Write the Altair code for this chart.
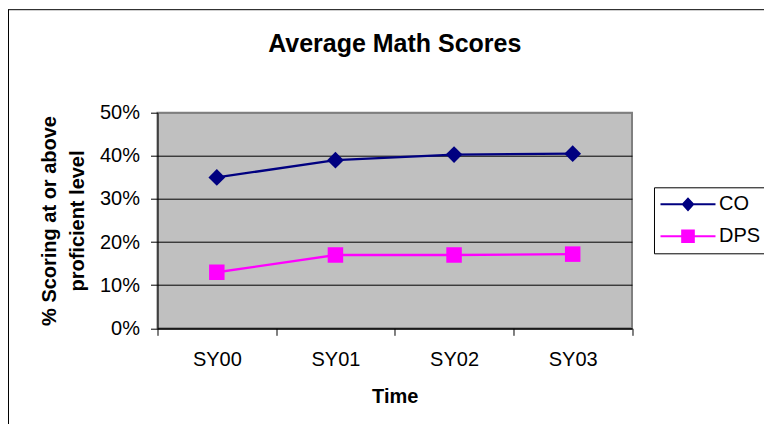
import altair as alt
import pandas as pd

years = ["SY00", "SY01", "SY02", "SY03"]
co_values = [0.35, 0.39, 0.403, 0.405]
dps_values = [0.13, 0.17, 0.17, 0.172]
series_names = ["CO", "DPS"]
series_colors = ["#000080", "#FF00FF"]
series_shapes = ["diamond", "square"]
y_ticks = [0, 0.1, 0.2, 0.3, 0.4, 0.5]

rows = []
for name, vals in zip(series_names, [co_values, dps_values]):
    for yr, v in zip(years, vals):
        rows.append({"year": yr, "series": name, "value": v})
df = pd.DataFrame(rows)

FONT = "Liberation Sans, Arial, sans-serif"

# legend symbols (Excel style): a short line with the marker in the middle, as filled paths
legend_paths = [
    "M-4.23,-0.15L4.23,-0.15L4.23,0.15L-4.23,0.15Z M0,-1.1L1,0L0,1.1L-1,0Z",
    "M-4.23,-0.15L4.23,-0.15L4.23,0.15L-4.23,0.15Z M-1.05,-1.05L1.05,-1.05L1.05,1.05L-1.05,1.05Z",
]

x_enc = alt.X(
    "year:N",
    sort=years,
    scale=alt.Scale(type="band", domain=years, paddingInner=0, paddingOuter=0),
    axis=alt.Axis(
        title="Time",
        labelAngle=0,
        tickBand="extent",
        tickSize=7,
        labelPadding=14,
        titlePadding=17,
        grid=False,
    ),
)
y_enc = alt.Y(
    "value:Q",
    scale=alt.Scale(domain=[0, 0.5], nice=False),
    axis=alt.Axis(
        values=y_ticks,
        format=".0%",
        title=["% Scoring at or above", "proficient level"],
        titleLineHeight=28,
        titlePadding=12,
        tickSize=7,
        labelPadding=11,
        grid=True,
        gridColor={"condition": {"test": "datum.value >= 0.5", "value": "#808080"}, "value": "#000000"},
    ),
)

color_scale = alt.Scale(domain=series_names, range=series_colors)
color_nolegend = alt.Color("series:N", scale=color_scale, legend=None)

base = alt.Chart(df)

legend = alt.Legend(
    title=None,
    orient="none",
    legendX=496.5,
    legendY=74.6,
    direction="vertical",
    fillColor="#FFFFFF",
    strokeColor="#000000",
    padding=7,
    labelFont=FONT,
    labelFontSize=20,
    labelColor="#000000",
    labelOffset=21,
    symbolOffset=17,
    symbolSize=169,
    symbolStrokeWidth=0,
    symbolOpacity=1,
    rowPadding=12,
)

# legend-only layer: no rows pass the filter, so it draws nothing but the legend
legend_layer = (
    base.transform_filter("false")
    .mark_point(filled=True)
    .encode(
        x=x_enc,
        y=y_enc,
        color=alt.Color("series:N", scale=color_scale, legend=legend),
        shape=alt.Shape("series:N", scale=alt.Scale(domain=series_names, range=legend_paths), legend=legend),
    )
)

lines = base.mark_line(strokeWidth=2.3).encode(
    x=x_enc, y=y_enc, color=color_nolegend, detail="series:N"
)

points_layers = []
for name, shp, sz in zip(series_names, series_shapes, [280, 240]):
    points_layers.append(
        base.transform_filter(alt.datum.series == name)
        .mark_point(filled=True, size=sz, opacity=1, shape=shp)
        .encode(x=x_enc, y=y_enc, color=color_nolegend)
    )

frame_data = alt.Data(values=[{"k": 1}])
frame_top = alt.Chart(frame_data).mark_rule(color="#000000", strokeWidth=1).encode(
    x=alt.value(-149.5), x2=alt.value(620), y=alt.value(-103)
)
frame_left = alt.Chart(frame_data).mark_rule(color="#000000", strokeWidth=1).encode(
    x=alt.value(-149), y=alt.value(-103), y2=alt.value(320)
)

chart = (
    alt.layer(legend_layer, lines, *points_layers, frame_top, frame_left)
    .properties(
        width=474.5,
        height=215.6,
        autosize=alt.AutoSizeParams(type="none"),
        padding={"left": 149.5, "top": 104.7, "right": 132, "bottom": 96},
        background="#FFFFFF",
        title=alt.TitleParams(
            text="Average Math Scores",
            font=FONT,
            fontSize=25,
            fontWeight="bold",
            color="#000000",
            anchor="middle",
            frame="group",
            baseline="alphabetic",
            offset=-68,
        ),
    )
    .configure_view(fill="#C0C0C0", stroke="#808080", strokeWidth=2)
    .configure_axis(
        domainColor="#000000",
        tickColor="#000000",
        labelColor="#000000",
        titleColor="#000000",
        labelFont=FONT,
        labelFontSize=20,
        titleFont=FONT,
        titleFontSize=20,
        titleFontWeight="bold",
        gridWidth=1,
    )
)

chart.save("out.html", embed_options={"renderer": "svg", "actions": False})
